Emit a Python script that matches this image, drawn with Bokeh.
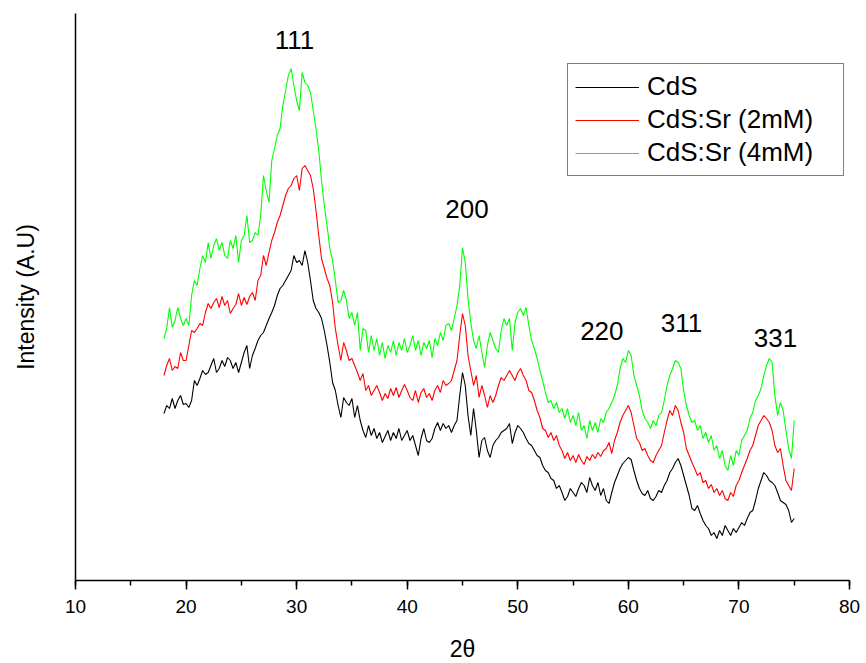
import numpy as np
from bokeh.plotting import figure
from bokeh.models import (ColumnDataSource, Legend, LegendItem, SingleIntervalTicker,
                          FixedTicker, Range1d)
from bokeh.core.properties import value
from bokeh.embed import file_html
from bokeh.resources import INLINE

# 2-theta sampling grid (degrees), 0.25 deg steps from 18 to 75
two_theta = np.linspace(18, 75, 229)

# Intensities (arbitrary units)
cds = [
    167, 175, 172, 182, 172, 180, 185, 176,
    177, 173, 180, 200, 195, 202, 210, 206,
    208, 215, 222, 208, 212, 220, 214, 223,
    220, 212, 218, 208, 218, 228, 235, 212,
    225, 232, 240, 245, 248, 255, 262, 268,
    275, 285, 292, 295, 300, 305, 310, 325,
    318, 320, 315, 330, 318, 300, 280, 272,
    268, 262, 250, 235, 218, 198, 190, 175,
    163, 183, 178, 175, 182, 163, 175, 160,
    150, 143, 155, 145, 152, 142, 148, 138,
    144, 150, 140, 148, 142, 152, 140, 145,
    150, 140, 145, 135, 125, 142, 152, 140,
    138, 142, 152, 158, 150, 157, 152, 155,
    148, 155, 160, 185, 208, 195, 165, 145,
    172, 150, 123, 140, 143, 130, 123, 135,
    140, 143, 148, 150, 152, 157, 137, 148,
    155, 152, 148, 142, 137, 135, 130, 125,
    123, 115, 110, 108, 102, 100, 92, 95,
    88, 80, 84, 92, 88, 84, 92, 98,
    95, 88, 103, 95, 90, 98, 85, 92,
    80, 77, 88, 98, 105, 112, 117, 120,
    123, 121, 110, 100, 92, 87, 85, 90,
    82, 80, 84, 90, 88, 95, 100, 108,
    112, 118, 122, 115, 105, 95, 85, 72,
    70, 75, 67, 60, 55, 52, 45, 48,
    42, 50, 45, 55, 50, 45, 52, 48,
    53, 58, 55, 62, 68, 70, 80, 92,
    100, 108, 105, 100, 98, 95, 88, 80,
    78, 76, 70, 58, 62,
]

cds_sr_2mm = [
    205, 215, 222, 210, 214, 212, 228, 220,
    220, 235, 250, 248, 252, 257, 255, 268,
    277, 272, 278, 282, 273, 284, 275, 280,
    267, 272, 276, 287, 275, 283, 276, 284,
    288, 280, 300, 305, 325, 315, 328, 340,
    348, 358, 365, 375, 385, 392, 395, 402,
    405, 390, 412, 415, 410, 405, 392, 370,
    345, 322, 312, 302, 295, 278, 252, 235,
    220, 238, 230, 220, 222, 215, 208, 200,
    207, 190, 195, 185, 190, 195, 188, 180,
    187, 182, 192, 185, 193, 183, 190, 196,
    190, 183, 180, 190, 178, 188, 192, 183,
    187, 180, 190, 195, 188, 200, 195, 197,
    200, 210, 220, 245, 267, 255, 225, 210,
    195, 205, 183, 195, 185, 173, 185, 178,
    185, 195, 203, 200, 205, 210, 205, 200,
    208, 212, 205, 200, 190, 188, 180, 170,
    163, 152, 150, 143, 148, 140, 145, 135,
    130, 122, 128, 120, 125, 118, 126, 120,
    116, 124, 120, 126, 122, 128, 124, 130,
    132, 138, 127, 140, 148, 158, 165, 170,
    175, 168, 155, 142, 138, 130, 132, 125,
    120, 118, 125, 130, 135, 148, 160, 170,
    165, 175, 170, 158, 148, 132, 125, 118,
    112, 105, 108, 98, 100, 92, 96, 88,
    92, 85, 90, 82, 80, 88, 84, 95,
    100, 108, 115, 122, 130, 135, 145, 155,
    160, 165, 162, 158, 150, 135, 128, 132,
    115, 100, 95, 90, 112,
]

cds_sr_4mm = [
    242, 252, 273, 253, 260, 273, 262, 255,
    262, 255, 285, 300, 295, 312, 325, 318,
    338, 322, 335, 342, 330, 338, 325, 322,
    340, 332, 345, 318, 340, 345, 365, 338,
    340, 348, 345, 365, 405, 390, 378, 420,
    432, 445, 452, 475, 490, 505, 512, 495,
    480, 470, 508, 498, 495, 488, 470, 452,
    430, 400, 375, 355, 332, 320, 300, 278,
    280, 290, 280, 262, 268, 255, 268, 230,
    252, 250, 228, 245, 230, 242, 225, 238,
    222, 235, 228, 240, 225, 238, 230, 242,
    228, 235, 245, 230, 240, 225, 238, 232,
    240, 223, 242, 235, 248, 240, 255, 257,
    250, 262, 275, 295, 333, 318, 282, 258,
    240, 232, 245, 228, 213, 235, 248, 240,
    232, 228, 250, 262, 255, 262, 230, 258,
    268, 272, 265, 273, 255, 240, 232, 222,
    210, 200, 188, 178, 180, 172, 178, 168,
    172, 162, 172, 158, 165, 155, 168, 150,
    155, 142, 160, 150, 158, 148, 162, 158,
    168, 172, 178, 185, 195, 212, 222, 218,
    230, 225, 205, 195, 185, 170, 162, 158,
    152, 160, 155, 165, 168, 180, 195, 205,
    212, 220, 218, 212, 190, 175, 165, 158,
    160, 150, 155, 142, 148, 138, 145, 130,
    135, 122, 130, 115, 110, 125, 115, 130,
    125, 140, 145, 150, 162, 168, 180, 185,
    192, 205, 215, 222, 218, 185, 165, 178,
    170, 150, 132, 122, 160,
]

assert len(cds) == len(cds_sr_2mm) == len(cds_sr_4mm) == len(two_theta)

series_labels = ["CdS", "CdS:Sr (2mM)", "CdS:Sr (4mM)"]
series_colors = ["#000000", "#ff0000", "#00ff00"]

# Miller-index peak labels and their positions (2theta, intensity)
peak_labels = ["111", "200", "220", "311", "331"]
peak_x = [29.8, 45.4, 57.6, 64.8, 73.3]
peak_y = [541, 372, 250, 258, 243]

FONT = "Liberation Sans"

p = figure(frame_width=774, frame_height=567,
           x_range=Range1d(10, 80), y_range=Range1d(0, 567),
           output_backend="svg", toolbar_location=None,
           min_border_left=75, min_border_right=17,
           min_border_top=13, min_border_bottom=82)

p.outline_line_color = None
p.xgrid.visible = False
p.ygrid.visible = False
p.background_fill_color = "white"
p.border_fill_color = "white"

src = ColumnDataSource(dict(x=two_theta, a=cds, b=cds_sr_2mm, c=cds_sr_4mm))
renderers = []
for col, color in zip(["a", "b", "c"], series_colors):
    r = p.line("x", col, source=src, line_color=color, line_width=1.1)
    renderers.append(r)

p.text(x=peak_x, y=peak_y, text=peak_labels,
       text_font=value(FONT), text_font_size=value("26px"),
       text_align="center", text_baseline="middle", text_color="black")

# x axis
xa = p.xaxis[0]
xa.ticker = SingleIntervalTicker(interval=10, num_minor_ticks=2)
xa.axis_line_width = 1.5
xa.axis_line_color = "black"
xa.major_tick_line_width = 1.5
xa.major_tick_line_color = "black"
xa.minor_tick_line_width = 1.5
xa.minor_tick_line_color = "black"
xa.major_tick_out = 9
xa.major_tick_in = 0
xa.minor_tick_out = 5
xa.minor_tick_in = 0
xa.major_label_text_font = FONT
xa.major_label_text_font_size = "19px"
xa.major_label_text_color = "black"
xa.major_label_standoff = 10
xa.axis_label = "2θ"
xa.axis_label_text_font = FONT
xa.axis_label_text_font_size = "23px"
xa.axis_label_text_font_style = "normal"
xa.axis_label_text_color = "black"
xa.axis_label_standoff = 20

# y axis: line only
ya = p.yaxis[0]
ya.ticker = FixedTicker(ticks=[])
ya.axis_line_width = 1.5
ya.axis_line_color = "black"
ya.major_tick_line_color = None
ya.minor_tick_line_color = None
ya.major_tick_out = 0
ya.major_tick_in = 0
ya.major_label_standoff = 0
ya.axis_label = "Intensity (A.U)"
ya.axis_label_text_font = FONT
ya.axis_label_text_font_size = "23px"
ya.axis_label_text_font_style = "normal"
ya.axis_label_text_color = "black"
ya.axis_label_standoff = 37

items = [LegendItem(label=lbl, renderers=[r]) for lbl, r in zip(series_labels, renderers)]
legend = Legend(items=items, location=(492, 404), margin=0, padding=7, spacing=2,
                glyph_width=64, glyph_height=30, label_height=30, label_width=189,
                label_standoff=8, label_text_font=FONT, label_text_font_size="26px",
                label_text_color="black", border_line_color="black", border_line_width=1,
                background_fill_color="white", background_fill_alpha=1.0)
p.add_layout(legend)

html = file_html(p, INLINE)
open("out.html", "w").write(html)
